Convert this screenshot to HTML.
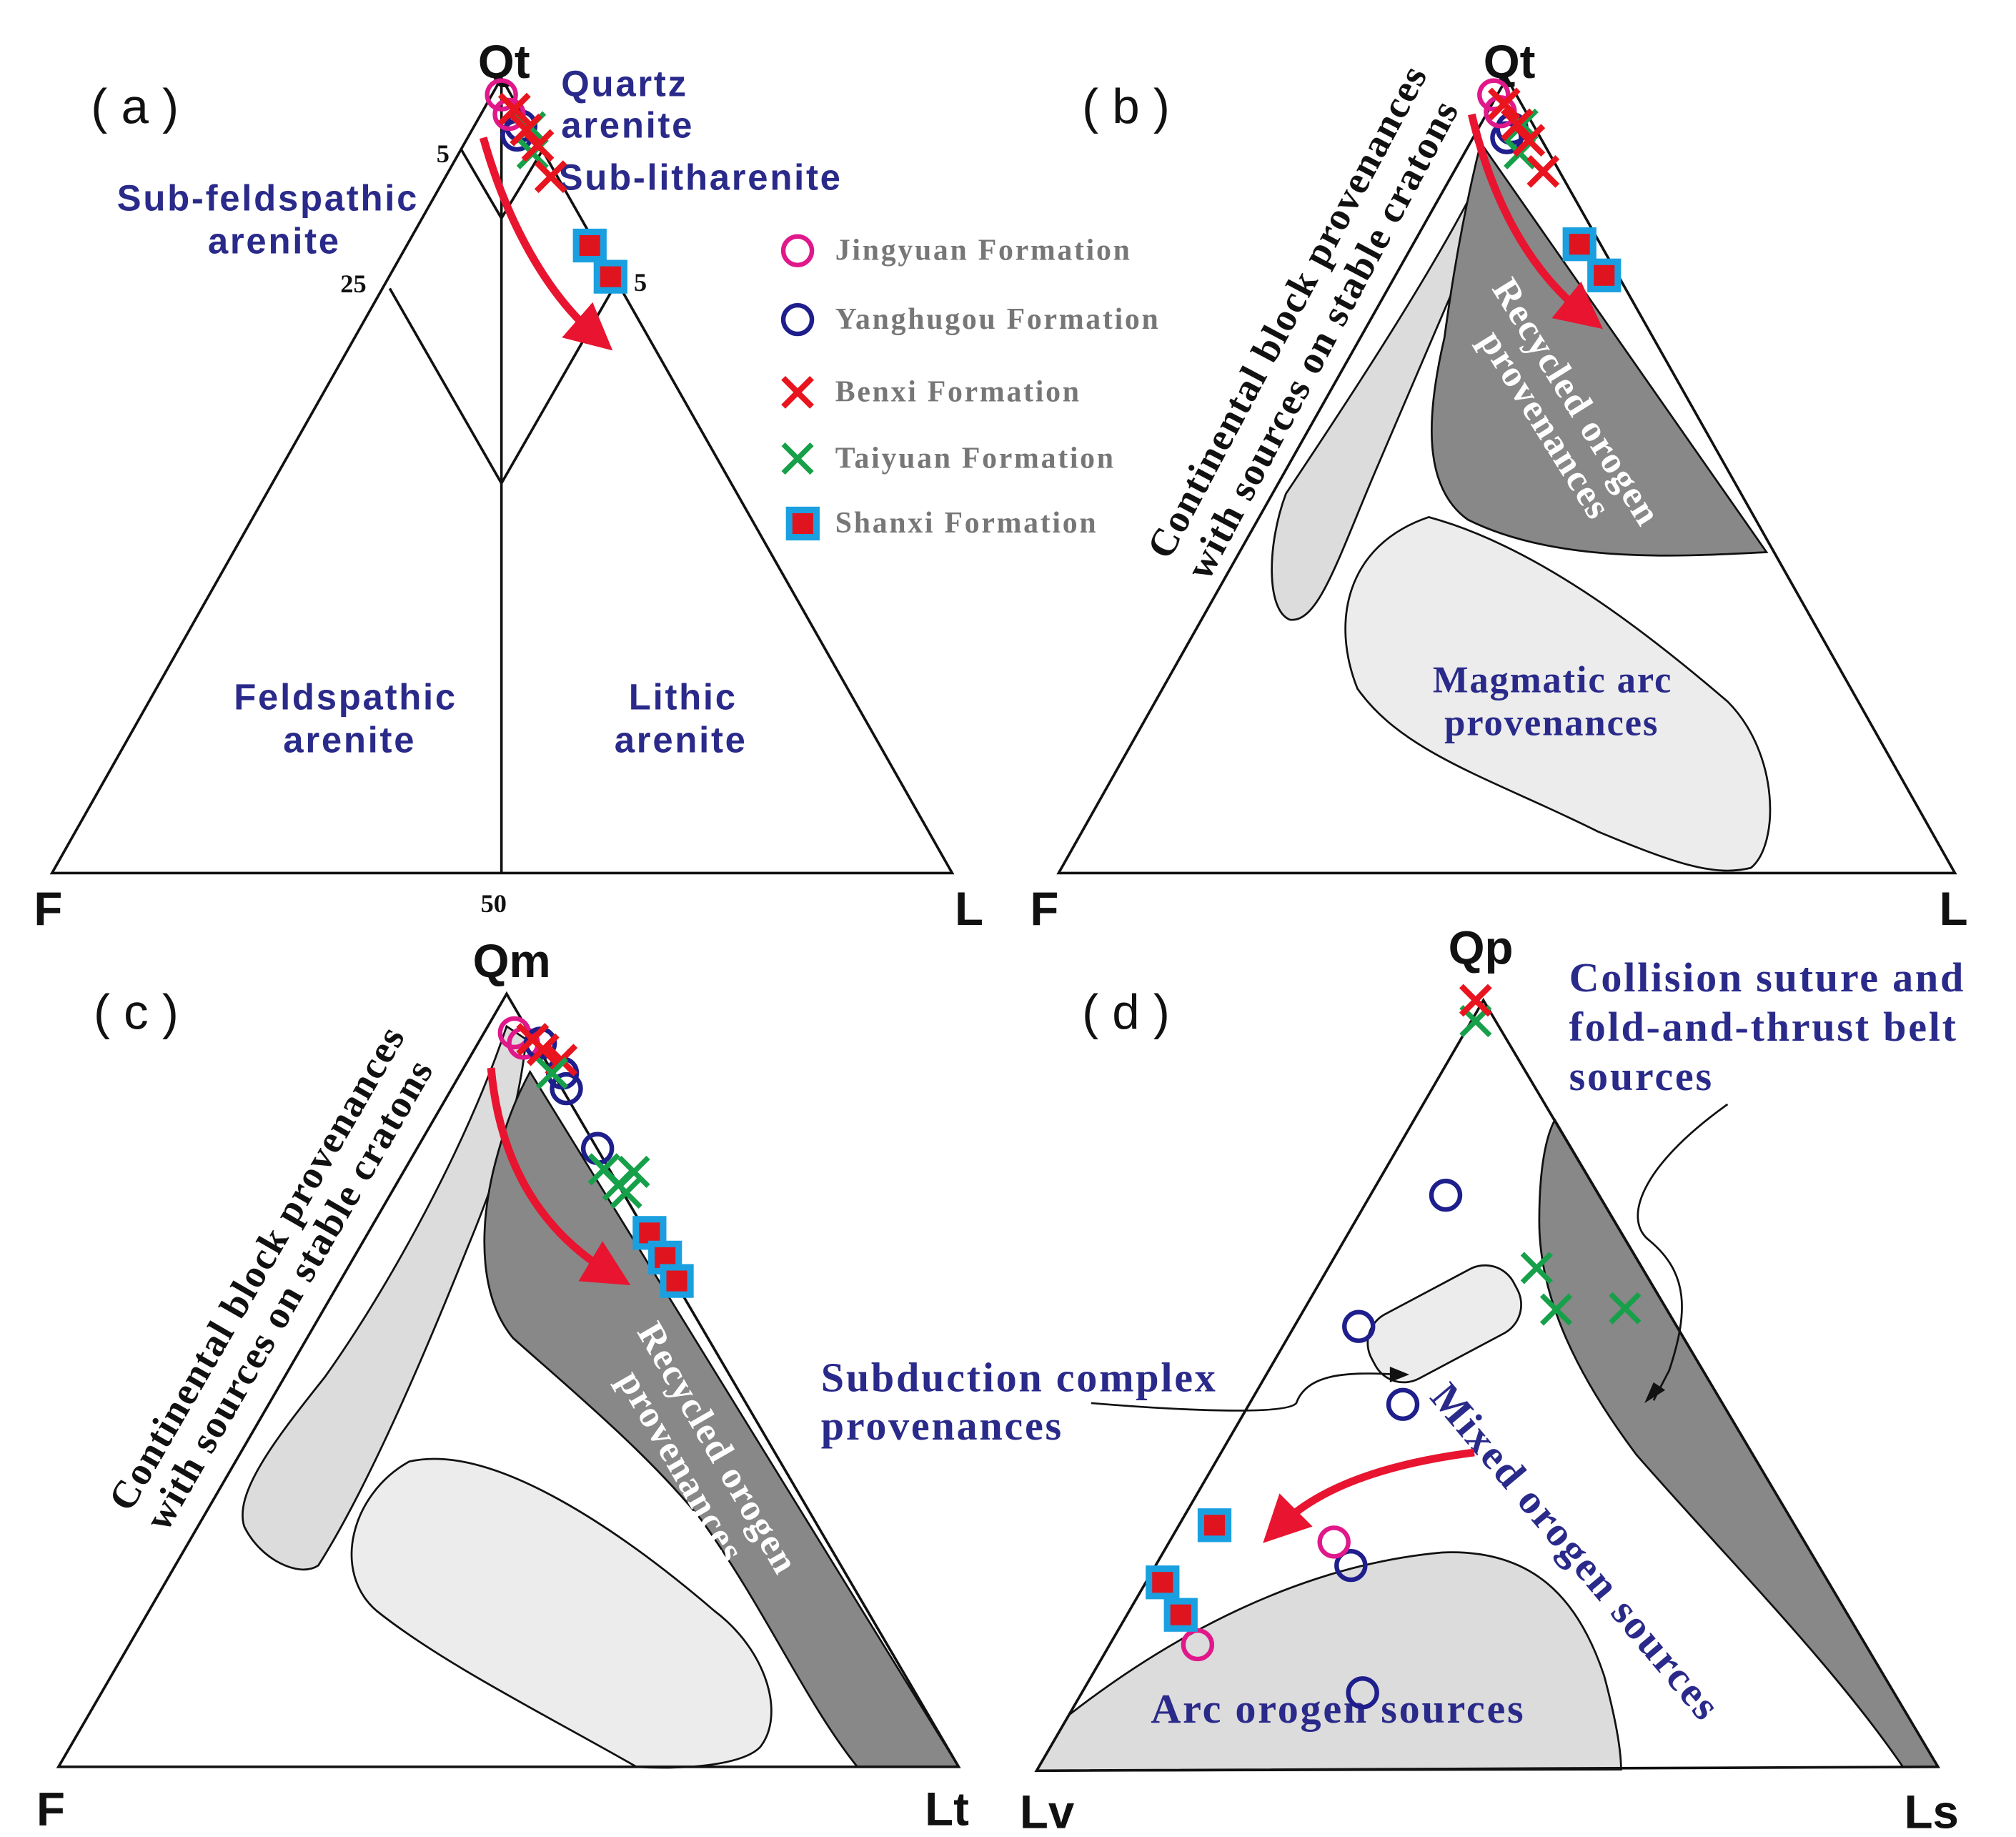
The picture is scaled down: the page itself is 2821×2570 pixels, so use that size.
<!DOCTYPE html>
<html><head><meta charset="utf-8"><style>
html,body{margin:0;padding:0;background:#fff}
svg{display:block}
.ax{font-family:"Liberation Sans",sans-serif;font-weight:bold;font-size:36px;fill:#111}
.pl{font-family:"Liberation Sans",sans-serif;font-size:38px;fill:#111}
.bl{font-family:"Liberation Sans",sans-serif;font-weight:bold;font-size:28px;fill:#2a2a8a;letter-spacing:1.5px}
.sb{font-family:"Liberation Serif",serif;font-weight:bold;font-size:29px;fill:#2a2a8a;letter-spacing:1px}
.sd{font-family:"Liberation Serif",serif;font-weight:bold;font-size:32px;fill:#2a2a8a;letter-spacing:1.5px}
.sk{font-family:"Liberation Serif",serif;font-weight:bold;font-size:30px;fill:#111;letter-spacing:1px}
.sw{font-family:"Liberation Serif",serif;font-weight:bold;font-size:29px;fill:#fff;letter-spacing:1px}
.lg{font-family:"Liberation Serif",serif;font-weight:bold;font-size:23px;fill:#777;letter-spacing:1.5px}
.tk{font-family:"Liberation Serif",serif;font-weight:bold;font-size:20px;fill:#111}
</style></head><body>
<svg width="2821" height="2570" viewBox="0 0 1552 1414" xmlns="http://www.w3.org/2000/svg">
<defs>
<g id="jo"><circle r="11" fill="none" stroke="#e0188a" stroke-width="3.5"/></g>
<g id="yo"><circle r="11" fill="none" stroke="#1e1e8c" stroke-width="3.5"/></g>
<g id="bx"><path d="M-11,-11L11,11M11,-11L-11,11" stroke="#e8141e" stroke-width="4.5"/></g>
<g id="tx"><path d="M-11,-11L11,11M11,-11L-11,11" stroke="#17a04a" stroke-width="4"/></g>
<g id="sq"><rect x="-13" y="-13" width="26" height="26" fill="#1aa0e0"/><rect x="-8" y="-8" width="16" height="16" fill="#e0141e"/></g>
<marker id="ah" markerWidth="6" markerHeight="6" refX="3" refY="3" orient="auto"><path d="M0,0L6,3L0,6z" fill="#e81430"/></marker>
</defs>

<!-- Panel a -->
<g fill="none" stroke="#111" stroke-width="2">
<path d="M40,672L733,672L386,60Z"/>
<path d="M386,60L386,672"/>
<path d="M300,222L386,372L472,222"/>
<path d="M355,115L386,168L418,115"/>
</g>
<text class="ax" x="368" y="60">Qt</text>
<text class="ax" x="26" y="712">F</text>
<text class="ax" x="735" y="712">L</text>
<text class="pl" x="70" y="95">( a )</text>
<text class="tk" x="336" y="125">5</text>
<text class="tk" x="262" y="225">25</text>
<text class="tk" x="488" y="224">5</text>
<text class="tk" x="370" y="702">50</text>
<text class="bl" x="432" y="74">Quartz</text>
<text class="bl" x="432" y="106">arenite</text>
<text class="bl" x="430" y="146">Sub-litharenite</text>
<text class="bl" x="90" y="162">Sub-feldspathic</text>
<text class="bl" x="160" y="195">arenite</text>
<text class="bl" x="180" y="546">Feldspathic</text>
<text class="bl" x="218" y="579">arenite</text>
<text class="bl" x="484" y="546">Lithic</text>
<text class="bl" x="473" y="579">arenite</text>
<path d="M372,106 C390,170 420,225 458,258" fill="none" stroke="#e81430" stroke-width="6" marker-end="url(#ah)"/>
<use href="#yo" x="398" y="104"/><use href="#yo" x="401" y="97"/>
<use href="#jo" x="386" y="73"/><use href="#jo" x="392" y="88"/>
<use href="#tx" x="408" y="98"/><use href="#tx" x="410" y="118"/>
<use href="#bx" x="396" y="84"/><use href="#bx" x="405" y="100"/><use href="#bx" x="414" y="112"/><use href="#bx" x="424" y="136"/>
<use href="#sq" x="454" y="189"/><use href="#sq" x="470" y="213"/>
<!-- legend -->
<use href="#jo" x="614" y="193"/><text class="lg" x="643" y="200">Jingyuan Formation</text>
<use href="#yo" x="614" y="246"/><text class="lg" x="643" y="253">Yanghugou Formation</text>
<use href="#bx" x="614" y="302"/><text class="lg" x="643" y="309">Benxi Formation</text>
<use href="#tx" x="614" y="353"/><text class="lg" x="643" y="360">Taiyuan Formation</text>
<use href="#sq" x="618" y="403"/><text class="lg" x="643" y="410">Shanxi Formation</text>

<!-- Panel b -->
<path d="M1145,125 C1110,200 1030,320 990,380 C975,420 975,470 993,477 C1015,480 1030,430 1060,360 C1090,290 1120,220 1150,150 Z" fill="#dcdcdc" stroke="#111" stroke-width="1.5"/>
<path d="M1140,110 L1360,425 C1300,428 1200,435 1130,400 C1095,375 1098,320 1112,260 C1120,200 1130,150 1140,110 Z" fill="#888" stroke="#111" stroke-width="1.5"/>
<path d="M1100,398 C1180,420 1260,480 1330,540 C1370,580 1370,650 1348,668 C1320,675 1290,665 1230,640 C1150,600 1080,580 1045,530 C1025,480 1035,420 1100,398 Z" fill="#ececec" stroke="#111" stroke-width="1.5"/>
<path d="M815,672L1505,672L1160,60Z" fill="none" stroke="#111" stroke-width="2"/>
<text class="ax" x="1142" y="60">Qt</text>
<text class="ax" x="793" y="712">F</text>
<text class="ax" x="1493" y="712">L</text>
<text class="pl" x="833" y="95">( b )</text>
<text class="sk" transform="translate(900,432) rotate(-62)">Continental block provenances</text>
<text class="sk" transform="translate(930,448) rotate(-62)">with sources on stable cratons</text>
<text class="sw" transform="translate(1148,222) rotate(58)">Recycled orogen</text>
<text class="sw" transform="translate(1138,262) rotate(58)">provenances</text>
<text class="sb" x="1103" y="533">Magmatic arc</text>
<text class="sb" x="1112" y="566">provenances</text>
<path d="M1133,88 C1150,160 1180,210 1220,242" fill="none" stroke="#e81430" stroke-width="6" marker-end="url(#ah)"/>
<use href="#yo" x="1160" y="106"/><use href="#yo" x="1164" y="99"/>
<use href="#jo" x="1150" y="73"/><use href="#jo" x="1155" y="86"/>
<use href="#tx" x="1172" y="96"/><use href="#tx" x="1170" y="118"/>
<use href="#bx" x="1158" y="80"/><use href="#bx" x="1168" y="96"/><use href="#bx" x="1177" y="108"/><use href="#bx" x="1188" y="132"/>
<use href="#sq" x="1216" y="188"/><use href="#sq" x="1235" y="212"/>

<!-- Panel c -->
<path d="M390,790 C360,880 300,990 250,1060 C210,1110 180,1150 188,1175 C200,1200 230,1215 245,1205 C280,1150 320,1060 360,960 C385,900 400,850 405,800 Z" fill="#dcdcdc" stroke="#111" stroke-width="1.5"/>
<path d="M408,825 L738,1360 L660,1360 C620,1310 590,1240 540,1170 C500,1120 440,1070 395,1030 C370,1000 368,950 380,900 C390,860 400,840 408,825 Z" fill="#888" stroke="#111" stroke-width="1.5"/>
<path d="M315,1125 C380,1110 480,1180 550,1240 C590,1270 605,1320 585,1345 C570,1360 520,1362 490,1360 C420,1320 340,1280 290,1240 C255,1210 270,1150 315,1125 Z" fill="#ececec" stroke="#111" stroke-width="1.5"/>
<path d="M45,1360L738,1360L390,765Z" fill="none" stroke="#111" stroke-width="2"/>
<text class="ax" x="364" y="752">Qm</text>
<text class="ax" x="28" y="1405">F</text>
<text class="ax" x="712" y="1405">Lt</text>
<text class="pl" x="72" y="792">( c )</text>
<text class="sk" transform="translate(100,1165) rotate(-60)">Continental block provenances</text>
<text class="sk" transform="translate(128,1180) rotate(-60)">with sources on stable cratons</text>
<text class="sw" transform="translate(490,1025) rotate(60)">Recycled orogen</text>
<text class="sw" transform="translate(475,1062) rotate(60)">provenances</text>
<path d="M378,822 C385,900 420,950 470,980" fill="none" stroke="#e81430" stroke-width="6" marker-end="url(#ah)"/>
<use href="#jo" x="396" y="795"/><use href="#jo" x="403" y="803"/>
<use href="#yo" x="416" y="803"/><use href="#yo" x="433" y="826"/><use href="#yo" x="436" y="838"/><use href="#yo" x="460" y="884"/>
<use href="#bx" x="410" y="800"/><use href="#bx" x="418" y="808"/><use href="#bx" x="432" y="816"/>
<use href="#tx" x="425" y="826"/><use href="#tx" x="465" y="900"/><use href="#tx" x="476" y="912"/><use href="#tx" x="488" y="902"/><use href="#tx" x="482" y="918"/>
<use href="#sq" x="500" y="949"/><use href="#sq" x="512" y="968"/><use href="#sq" x="521" y="986"/>

<!-- Panel d -->
<path d="M1197,862 L1492,1360 L1465,1360 C1410,1280 1330,1200 1260,1120 C1215,1060 1185,1000 1185,940 C1185,900 1190,875 1197,862 Z" fill="#888" stroke="#111" stroke-width="1.5"/>
<path d="M823,1320 C900,1260 1000,1205 1110,1195 C1180,1192 1215,1230 1235,1290 C1243,1320 1248,1345 1248,1362 L798,1363 Z" fill="#dcdcdc" stroke="#111" stroke-width="1.5"/>
<g transform="translate(1112,1019) rotate(-28)"><rect x="-62" y="-28" width="124" height="56" rx="25" fill="#ececec" stroke="#111" stroke-width="1.5"/></g>
<path d="M798,1363L1492,1360L1142,770Z" fill="none" stroke="#111" stroke-width="2"/>
<text class="ax" x="1115" y="742">Qp</text>
<text class="ax" x="785" y="1407">Lv</text>
<text class="ax" x="1466" y="1407">Ls</text>
<text class="pl" x="833" y="792">( d )</text>
<text class="sd" x="1208" y="763">Collision suture and</text>
<text class="sd" x="1208" y="801">fold-and-thrust belt</text>
<text class="sd" x="1208" y="839">sources</text>
<text class="sd" x="632" y="1071">Subduction complex</text>
<text class="sd" x="632" y="1108">provenances</text>
<text class="sd" x="886" y="1326">Arc orogen sources</text>
<text class="sd" transform="translate(1100,1076) rotate(50)">Mixed orogen sources</text>
<path d="M1330,850 C1260,900 1250,940 1270,955 C1300,980 1300,1010 1285,1055 L1273,1078" fill="none" stroke="#111" stroke-width="1.5"/>
<path d="M1266,1080 L1273,1064 L1282,1070 Z" fill="#111"/>
<path d="M840,1080 C900,1085 990,1090 998,1080 C1005,1060 1030,1055 1075,1058" fill="none" stroke="#111" stroke-width="1.5"/>
<path d="M1085,1058 L1070,1052 L1070,1064 Z" fill="#111"/>
<path d="M1135,1118 C1080,1125 1020,1140 985,1175" fill="none" stroke="#e81430" stroke-width="6" marker-end="url(#ah)"/>
<use href="#tx" x="1136" y="786"/><use href="#bx" x="1136" y="770"/>
<use href="#yo" x="1113" y="920"/><use href="#yo" x="1046" y="1021"/><use href="#yo" x="1080" y="1081"/><use href="#yo" x="1040" y="1205"/><use href="#yo" x="1049" y="1303"/>
<use href="#tx" x="1183" y="976"/><use href="#tx" x="1198" y="1008"/><use href="#tx" x="1251" y="1007"/>
<use href="#jo" x="1027" y="1187"/><use href="#jo" x="922" y="1266"/>
<use href="#sq" x="935" y="1174"/><use href="#sq" x="895" y="1218"/><use href="#sq" x="909" y="1243"/>
</svg>
</body></html>
